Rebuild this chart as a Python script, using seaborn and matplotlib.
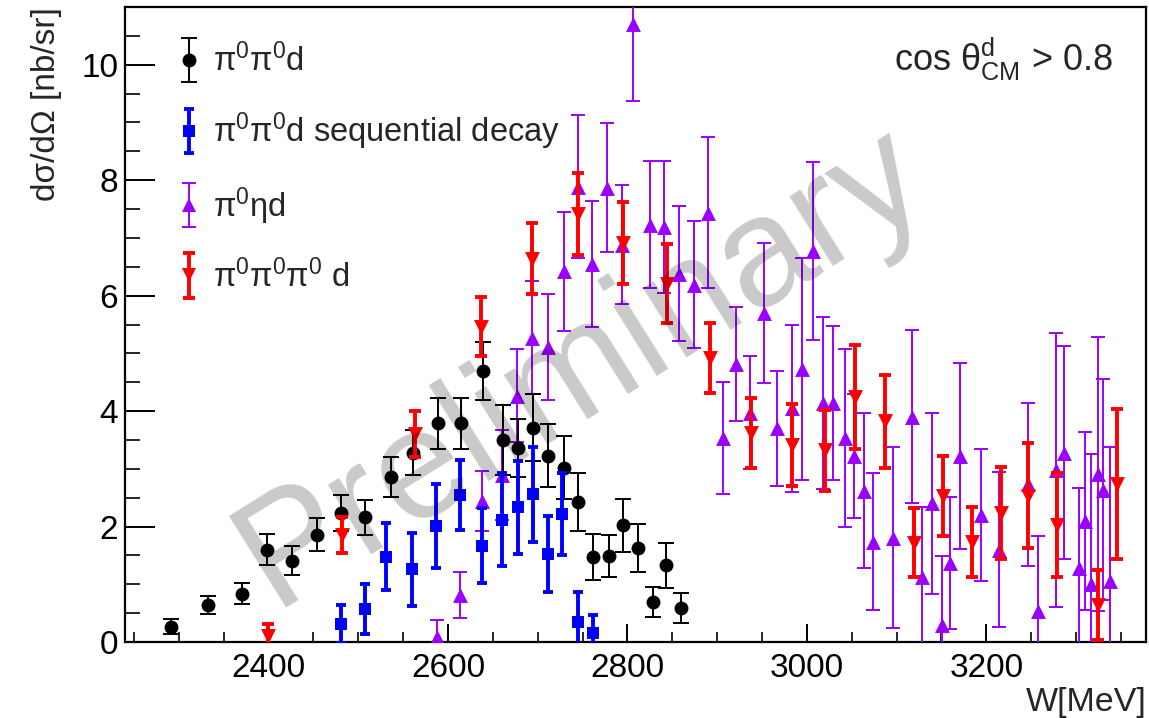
import matplotlib
matplotlib.use("Agg")
import numpy as np
import pandas as pd
import seaborn as sns
import matplotlib.pyplot as plt
from matplotlib.lines import Line2D
from matplotlib.container import ErrorbarContainer
from matplotlib.legend_handler import HandlerErrorbar, HandlerTuple

# ---- pi0 pi0 d ----
w_pipid = [2291, 2333, 2370, 2398, 2426, 2454, 2481, 2508, 2537, 2561, 2589, 2614, 2639,
           2661, 2678, 2695, 2712, 2729, 2745, 2762, 2779, 2795, 2812, 2828, 2843, 2860]
xs_pipid = [0.26, 0.64, 0.84, 1.60, 1.41, 1.86, 2.24, 2.16, 2.86, 3.28, 3.79, 3.79, 4.69,
            3.50, 3.36, 3.71, 3.23, 3.02, 2.43, 1.47, 1.49, 2.02, 1.63, 0.69, 1.33, 0.59]
er_pipid = [0.13, 0.16, 0.19, 0.27, 0.25, 0.28, 0.31, 0.30, 0.35, 0.39, 0.44, 0.44, 0.50,
            0.61, 0.50, 0.58, 0.54, 0.54, 0.50, 0.40, 0.37, 0.46, 0.41, 0.26, 0.39, 0.26]

# ---- pi0 pi0 d, sequential decay ----
w_seq = [2481, 2508, 2531, 2560, 2587, 2613, 2638, 2660, 2678, 2695, 2712, 2727, 2745, 2762]
xs_seq = [0.31, 0.57, 1.48, 1.26, 2.01, 2.55, 1.67, 2.12, 2.33, 2.56, 1.53, 2.21, 0.35, 0.15]
er_seq = [0.33, 0.44, 0.58, 0.63, 0.73, 0.61, 0.65, 0.80, 0.80, 0.82, 0.66, 0.71, 0.51, 0.31]

# ---- pi0 eta d ----
w_etad = [2588, 2613, 2638, 2660, 2677, 2694, 2711, 2729, 2745, 2760, 2777, 2794, 2806,
          2825, 2841, 2858, 2874, 2890, 2906, 2921, 2937, 2952, 2967, 2983, 2995, 3007,
          3018, 3029, 3042, 3052, 3064, 3074, 3096, 3117, 3128, 3140, 3151, 3160, 3171,
          3194, 3214, 3246, 3258, 3278, 3287, 3303, 3310, 3317, 3324, 3330, 3338]
xs_etad = [0.08, 0.81, 2.44, 2.89, 4.27, 5.27, 5.11, 6.42, 7.89, 6.55, 7.87, 6.88, 10.70,
           7.23, 7.19, 6.38, 6.19, 7.44, 3.53, 4.82, 3.97, 5.70, 3.70, 4.05, 4.73, 6.78,
           4.14, 4.14, 3.53, 3.22, 2.62, 1.74, 1.81, 3.90, 1.13, 2.40, 0.29, 1.37, 3.22,
           2.20, 1.60, 2.73, 0.54, 2.98, 3.28, 1.29, 2.10, 1.01, 2.91, 2.64, 1.06]
er_etad = [0.30, 0.40, 0.52, 0.78, 0.80, 0.98, 0.92, 1.03, 1.24, 1.09, 1.12, 1.03, 1.33,
           1.10, 1.15, 1.17, 1.10, 1.31, 0.97, 0.99, 0.98, 1.21, 0.99, 1.45, 1.93, 1.54,
           1.49, 1.34, 1.54, 1.08, 1.34, 1.18, 1.57, 1.50, 1.21, 1.56, 1.20, 1.14, 1.61,
           1.14, 1.34, 1.41, 1.30, 2.38, 1.85, 1.38, 1.54, 2.25, 2.38, 1.91, 2.32]

# ---- pi0 pi0 pi0 d ----
w_3pid = [2399, 2482, 2563, 2637, 2694, 2745, 2795, 2844, 2892, 2938, 2983, 3020, 3054,
          3087, 3119, 3152, 3184, 3216, 3247, 3279, 3325, 3346]
xs_3pid = [0.10, 1.85, 3.61, 5.46, 6.64, 7.41, 6.91, 6.21, 4.92, 3.62, 3.42, 3.32, 4.24,
           3.82, 1.72, 2.53, 1.73, 2.23, 2.53, 2.02, 0.64, 2.73]
er_3pid = [0.22, 0.31, 0.40, 0.51, 0.61, 0.71, 0.71, 0.69, 0.60, 0.61, 0.71, 0.70, 0.90,
           0.80, 0.60, 0.70, 0.60, 0.80, 0.91, 0.90, 0.61, 1.30]

labels = [r"$\mathrm{\pi^{0}\pi^{0}d}$",
          r"$\mathrm{\pi^{0}\pi^{0}d}$ sequential decay",
          r"$\mathrm{\pi^{0}\eta d}$",
          r"$\mathrm{\pi^{0}\pi^{0}\pi^{0}}$ d"]

sns.set_theme(style="ticks")
plt.rcParams["font.family"] = ["Liberation Sans", "DejaVu Sans"]
plt.rcParams["mathtext.fontset"] = "custom"
plt.rcParams["mathtext.rm"] = "Liberation Sans"
plt.rcParams["mathtext.it"] = "Liberation Sans:italic"
plt.rcParams["mathtext.bf"] = "Liberation Sans:bold"

PURPLE = "#9a00ff"
series = [
    # (x, y, err, color, marker, marker area, bar width, cap size, zorder)
    (w_etad, xs_etad, er_etad, PURPLE, "^", 115, 1.4, 5.0, 3),
    (w_pipid, xs_pipid, er_pipid, "black", "o", 100, 1.4, 5.5, 4),
    (w_seq, xs_seq, er_seq, "#0000ff", "s", 78, 2.8, 3.5, 5),
    (w_3pid, xs_3pid, er_3pid, "#ff0000", "v", 115, 2.8, 4.0, 6),
]
order = [1, 2, 0, 3]  # legend order: pipid, seq, etad, 3pid

fig = plt.figure(figsize=(11.49, 7.18), dpi=100)
ax = fig.add_axes([125 / 1149, 76 / 718, 1021 / 1149, 635 / 718])

handles = []
for (x, y, e, col, mk, s, lw, cs, z) in series:
    df = pd.DataFrame({"W": x, "xs": y, "err": e})
    eb = ax.errorbar(df["W"], df["xs"], yerr=df["err"], fmt="none", ecolor=col,
                     elinewidth=lw, capsize=cs, capthick=lw, zorder=z)
    sns.scatterplot(data=df, x="W", y="xs", marker=mk, s=s, color=col,
                    edgecolor=col, linewidth=0, ax=ax, zorder=z + 0.5, legend=False)
    proxy = Line2D([], [], linestyle="none", marker=mk, color=col,
                   markersize=np.sqrt(s), markeredgewidth=0)
    handles.append((eb, proxy))

ax.set_xlim(2240, 3378)
ax.set_ylim(0, 11)
ax.set_xlabel("")
ax.set_ylabel("")

ax.xaxis.set_major_locator(matplotlib.ticker.MultipleLocator(200))
ax.xaxis.set_minor_locator(matplotlib.ticker.MultipleLocator(50))
ax.yaxis.set_major_locator(matplotlib.ticker.MultipleLocator(2))
ax.yaxis.set_minor_locator(matplotlib.ticker.MultipleLocator(0.5))
ax.tick_params(axis="x", which="major", direction="in", length=13, width=1.4,
               labelsize=24, pad=8, colors="black")
ax.tick_params(axis="x", which="minor", direction="in", length=7, width=1.4)
ax.tick_params(axis="y", which="major", direction="in", length=21.5, width=1.4,
               labelsize=24, pad=5, colors="black")
ax.tick_params(axis="y", which="minor", direction="in", length=11, width=1.4)
for sp in ax.spines.values():
    sp.set_visible(True)
    sp.set_linewidth(1.6)
    sp.set_color("black")

leg = ax.legend([handles[i] for i in order], labels, loc="upper left",
                bbox_to_anchor=(0.047, 0.942), frameon=False, fontsize=23.5,
                handlelength=1.0, handletextpad=0.22, labelspacing=1.0,
                borderpad=0, borderaxespad=0,
                handler_map={ErrorbarContainer: HandlerErrorbar(yerr_size=0.68),
                             tuple: HandlerTuple(ndivide=1)})

ax.text(0.968, 0.918, r"cos $\mathrm{\theta^{d}_{CM}}$ > 0.8", transform=ax.transAxes,
        ha="right", va="center", fontsize=26)

fig.text(47 / 1149, 1 - 7 / 718, "dσ/dΩ [nb/sr]", rotation=90, ha="center", va="top",
         fontsize=24)
fig.text(1147 / 1149, 1 - 702 / 718, "W[MeV]", ha="right", va="center", fontsize=24.5)

fig.text(582 / 1149, 1 - 368 / 718, "Preliminary", rotation=32, rotation_mode="anchor",
         ha="center", va="center", fontsize=112, color="black", alpha=0.21, zorder=10)

fig.savefig("out.png", dpi=100)
